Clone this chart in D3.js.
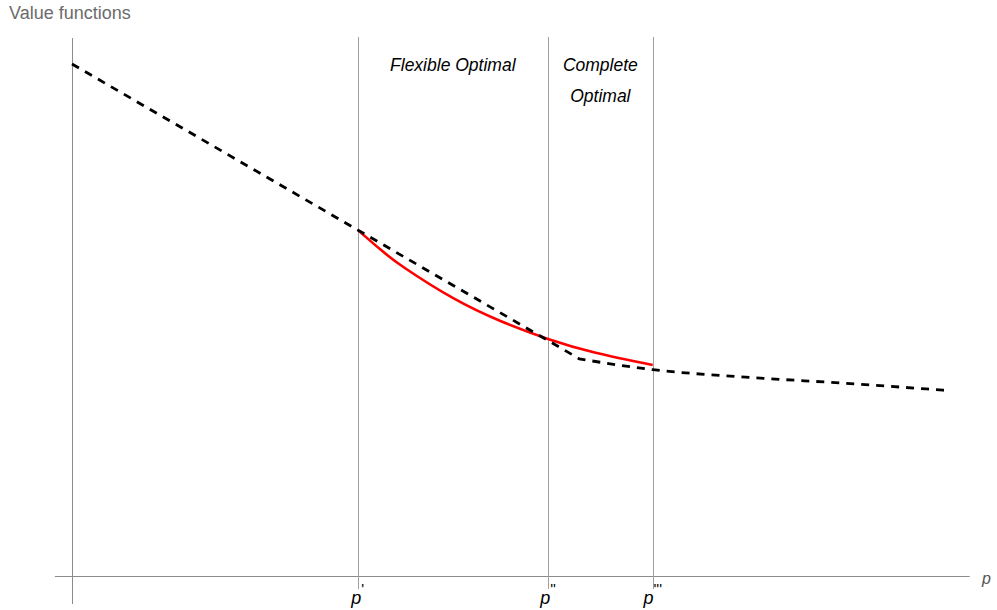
<!DOCTYPE html>
<html>
<head>
<meta charset="utf-8">
<script src="https://cdn.jsdelivr.net/npm/d3@7"></script>
<style>
  html, body { margin: 0; padding: 0; background: #fff; }
  svg { display: block; font-family: "Liberation Sans", Arial, sans-serif; }
</style>
</head>
<body>
<svg id="chart" width="997" height="610"></svg>
<script>
// Price thresholds (p', p'', p''') and their labels
const thresholds = [3.0, 5.0, 6.1];
const thresholdPrimes = ["'", "''", "'''"];

// Region labels placed between the thresholds
const regionLabels = [
  { lines: ["Flexible Optimal"], from: 3.0, to: 5.0 },
  { lines: ["Complete", "Optimal"], from: 5.0, to: 6.1 }
];

// Dashed value function (piecewise: linear, then a slowly flattening tail)
const dashedP = [0, 3.0, 5.0, 5.33, 6.1, 7.02, 8.07, 9.22];
const dashedV = [10.0, 6.76, 4.60, 4.24, 4.03, 3.89, 3.77, 3.62];

// Red value function on the flexible/complete range
const redP = [3.0, 3.25, 3.5, 4.0, 4.5, 5.0, 5.5, 6.1];
const redV = [6.76, 6.36, 6.01, 5.43, 4.98, 4.63, 4.36, 4.12];

const svg = d3.select("#chart");

const x = d3.scaleLinear().domain([0, 10]).range([72, 72 + 952]);
const y = d3.scaleLinear().domain([0, 10]).range([576, 64]);

// Title
svg.append("text")
  .attr("x", 9).attr("y", 19)
  .attr("fill", "#6b6b6b")
  .attr("font-size", 18)
  .text("Value functions");

// Horizontal axis
svg.append("line")
  .attr("x1", x(-0.18)).attr("x2", x(9.43))
  .attr("y1", y(0) + 0.5).attr("y2", y(0) + 0.5)
  .attr("stroke", "#8c8c8c").attr("stroke-width", 1);

svg.append("text")
  .attr("x", 982).attr("y", 584)
  .attr("font-size", 16).attr("font-style", "italic")
  .attr("fill", "#555")
  .text("p");

// Vertical axis
svg.append("line")
  .attr("x1", x(0) + 0.5).attr("x2", x(0) + 0.5)
  .attr("y1", 38).attr("y2", 604)
  .attr("stroke", "#8c8c8c").attr("stroke-width", 1);

// Threshold lines
svg.selectAll("line.thr")
  .data(thresholds)
  .join("line")
  .attr("class", "thr")
  .attr("x1", d => Math.round(x(d)) + 0.5).attr("x2", d => Math.round(x(d)) + 0.5)
  .attr("y1", 37).attr("y2", 589)
  .attr("stroke", "#a0a0a0").attr("stroke-width", 1);

// Threshold tick labels: italic p with primes
const tl = svg.selectAll("text.thr")
  .data(thresholds)
  .join("text")
  .attr("class", "thr")
  .attr("x", d => x(d))
  .attr("y", 604)
  .attr("text-anchor", "middle")
  .attr("font-size", 18)
  .attr("font-style", "italic")
  .attr("fill", "#000");
tl.append("tspan").text("p");
tl.append("tspan")
  .attr("dy", -10)
  .attr("font-size", 15)
  .attr("font-style", "normal")
  .text((d, i) => thresholdPrimes[i]);

// Region labels
regionLabels.forEach(r => {
  const cx = (x(r.from) + x(r.to)) / 2;
  r.lines.forEach((ln, i) => {
    svg.append("text")
      .attr("x", cx).attr("y", 71 + i * 31)
      .attr("text-anchor", "middle")
      .attr("font-size", 17.5)
      .attr("font-style", "italic")
      .attr("fill", "#000")
      .text(ln);
  });
});

// Red curve
const redData = redP.map((p, i) => [p, redV[i]]);
svg.append("path")
  .datum(redData)
  .attr("fill", "none")
  .attr("stroke", "#ff0000")
  .attr("stroke-width", 2.6)
  .attr("d", d3.line().x(d => x(d[0])).y(d => y(d[1])).curve(d3.curveNatural));

// Dashed curve: linear piece, then smooth tail
const dashedData = dashedP.map((p, i) => [p, dashedV[i]]);
const linearPart = dashedData.slice(0, 4);
const tailPart = dashedData.slice(3);
const dashedPath = d3.line().x(d => x(d[0])).y(d => y(d[1]));
const tailPath = d3.line().x(d => x(d[0])).y(d => y(d[1])).curve(d3.curveMonotoneX);
svg.append("path")
  .attr("fill", "none")
  .attr("stroke", "#000")
  .attr("stroke-width", 2.8)
  .attr("stroke-dasharray", "8,7")
  .attr("d", dashedPath(linearPart) + tailPath(tailPart).replace(/^M[^LC]*/, ""));
</script>
</body>
</html>
